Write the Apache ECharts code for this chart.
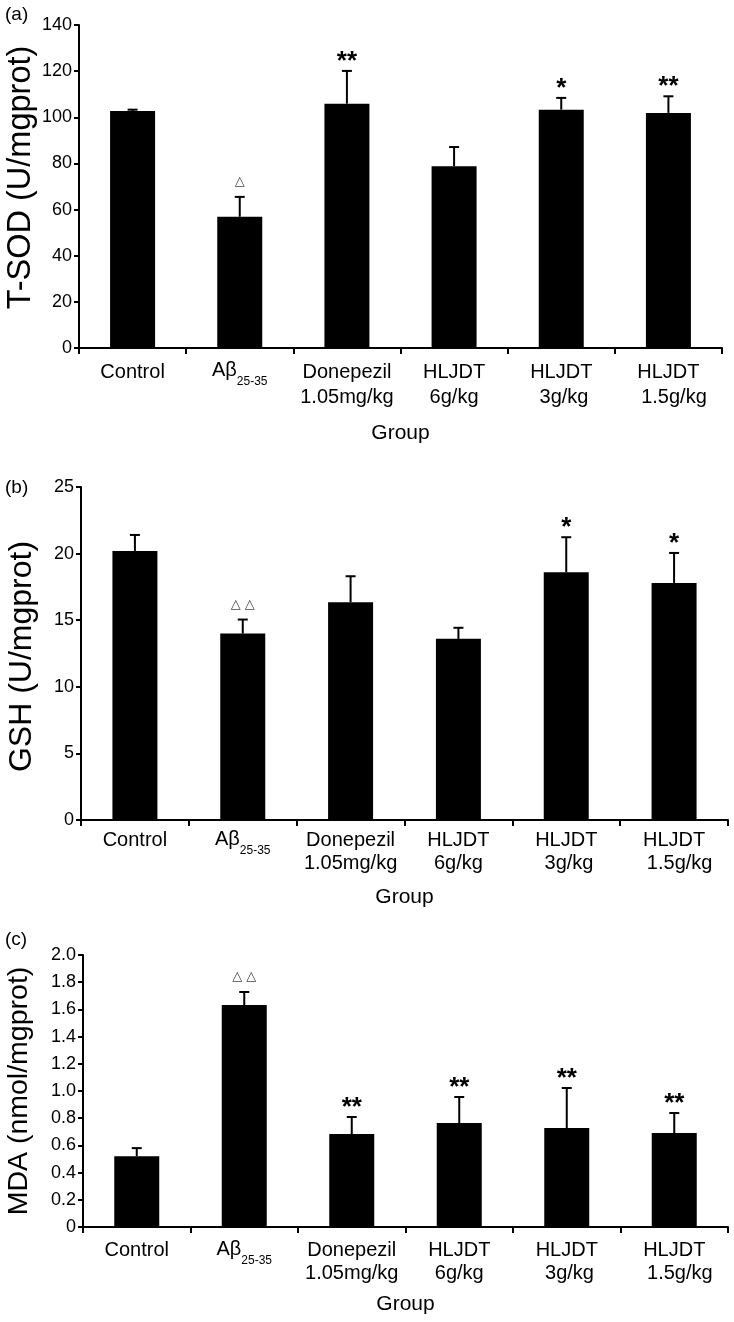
<!DOCTYPE html>
<html>
<head>
<meta charset="utf-8">
<script src="https://cdn.jsdelivr.net/npm/echarts@6/dist/echarts.min.js"></script>
<style>
html,body{margin:0;padding:0;background:#fff;}
#chart{width:734px;height:1322px;}
</style>
</head>
<body>
<div id="chart"></div>
<script>
// ---- data ----
const categories = ['Control', 'Aβ25-35', 'Donepezil\n1.05mg/kg', 'HLJDT\n6g/kg', 'HLJDT\n 3g/kg', 'HLJDT\n  1.5g/kg'];

const sodMean = [102.7, 56.9, 105.9, 78.8, 103.3, 101.9];
const sodSD   = [0.6, 8.6, 14.2, 8.3, 5.1, 7.2];
const sodMarks = ['', '△', '**', '', '*', '**'];
const sodTicks = ['0', '20', '40', '60', '80', '100', '120', '140'];

const gshMean = [20.2, 14.0, 16.35, 13.6, 18.6, 17.8];
const gshSD   = [1.2, 1.05, 1.95, 0.83, 2.63, 2.25];
const gshMarks = ['', '△ △', '', '', '*', '*'];
const gshTicks = ['0', '5', '10', '15', '20', '25'];

const mdaMean = [0.52, 1.632, 0.684, 0.765, 0.728, 0.691];
const mdaSD   = [0.06, 0.096, 0.125, 0.191, 0.294, 0.147];
const mdaMarks = ['', '△ △', '**', '**', '**', '**'];
const mdaTicks = ['0', '0.2', '0.4', '0.6', '0.8', '1.0', '1.2', '1.4', '1.6', '1.8', '2.0'];

const yNames = ['T-SOD (U/mgprot)', 'GSH (U/mgprot)', 'MDA (nmol/mgprot)'];
const xName = 'Group';
const panelLabels = ['(a)', '(b)', '(c)'];

// ---- chart ----
const FONT = "'Liberation Sans', Arial, Helvetica, sans-serif";
const chart = echarts.init(document.getElementById('chart'), null, {renderer: 'canvas'});

const grids = [
  {left: 79, top: 25, width: 643, height: 323, outerBoundsMode: 'none', containLabel: false},
  {left: 81, top: 487, width: 647, height: 333, outerBoundsMode: 'none', containLabel: false},
  {left: 83, top: 955, width: 645, height: 272, outerBoundsMode: 'none', containLabel: false}
];
const yCfg = [
  {max: 140, interval: 20, ticks: sodTicks, nameGap: 41, nameSize: 32.5, namePad: [0, 0, 0, 18]},
  {max: 25, interval: 5, ticks: gshTicks, nameGap: 43, nameSize: 32, namePad: [0, 6, 0, 0]},
  {max: 2, interval: 0.2, ticks: mdaTicks, nameGap: 49, nameSize: 28.5, namePad: 0}
];
const xCfg = [
  {lineHeight: 25, margin: 12, nameGap: 75},
  {lineHeight: 23, margin: 9, nameGap: 67},
  {lineHeight: 23, margin: 12, nameGap: 67}
];
const means = [sodMean, gshMean, mdaMean];
const sds = [sodSD, gshSD, mdaSD];
const marks = [sodMarks, gshMarks, mdaMarks];

function xLabelFormatter(v) {
  if (v === 'Aβ25-35') return '{a|Aβ}{sub|25-35}';
  return v;
}

const xAxes = [], yAxes = [], series = [];
for (let p = 0; p < 3; p++) {
  xAxes.push({
    type: 'category', gridIndex: p, data: categories,
    name: xName, nameLocation: 'middle', nameGap: xCfg[p].nameGap, nameMoveOverlap: false,
    nameTextStyle: {fontFamily: FONT, fontSize: 21, color: '#000'},
    axisLine: {lineStyle: {color: '#000', width: 2}},
    axisTick: {show: true, length: 6, lineStyle: {color: '#000', width: 2}},
    axisLabel: {
      interval: 0, margin: xCfg[p].margin, color: '#000', fontFamily: FONT, fontSize: 20,
      lineHeight: xCfg[p].lineHeight,
      formatter: xLabelFormatter,
      rich: {
        a: {fontFamily: FONT, fontSize: 20, lineHeight: xCfg[p].lineHeight, verticalAlign: 'top', color: '#000'},
        sub: {fontFamily: FONT, fontSize: 12, lineHeight: 44, color: '#000'}
      }
    },
    splitLine: {show: false}
  });
  const tk = yCfg[p].ticks;
  yAxes.push({
    type: 'value', gridIndex: p, min: 0, max: yCfg[p].max, interval: yCfg[p].interval,
    name: yNames[p], nameLocation: 'middle', nameGap: yCfg[p].nameGap, nameRotate: 90,
    nameMoveOverlap: false,
    nameTextStyle: {fontFamily: FONT, fontSize: yCfg[p].nameSize, color: '#000', padding: yCfg[p].namePad},
    axisLine: {show: true, lineStyle: {color: '#000', width: 2}},
    axisTick: {show: true, length: 5, lineStyle: {color: '#000', width: 2}},
    axisLabel: {
      margin: 7, color: '#000', fontFamily: FONT, fontSize: 18,
      formatter: function (v, i) { return tk[i] !== undefined ? tk[i] : String(v); }
    },
    splitLine: {show: false}
  });
  series.push({
    type: 'bar', xAxisIndex: p, yAxisIndex: p, barWidth: 45,
    itemStyle: {color: '#000'},
    data: means[p], silent: true, animation: false
  });
  const mk = marks[p];
  series.push({
    type: 'custom', xAxisIndex: p, yAxisIndex: p, animation: false, silent: true,
    data: means[p].map((m, i) => [i, m, sds[p][i]]),
    encode: {x: 0, y: 1},
    renderItem: function (params, api) {
      const i = api.value(0), m = api.value(1), sd = api.value(2);
      const t = api.coord([i, m]);
      const c = api.coord([i, m + sd]);
      const x = t[0];
      const children = [
        {type: 'line', shape: {x1: x, y1: t[1], x2: x, y2: c[1]}, style: {stroke: '#000', lineWidth: 2}},
        {type: 'line', shape: {x1: x - 5, y1: c[1], x2: x + 5, y2: c[1]}, style: {stroke: '#000', lineWidth: 2}}
      ];
      const s = mk[params.dataIndex];
      if (s) {
        const isStar = s.indexOf('*') >= 0;
        children.push({
          type: 'text', x: x, y: isStar ? c[1] - 9 : c[1] - 15,
          style: isStar ? {
            text: s, fontFamily: FONT, fontWeight: 'bold', fontSize: 26, fill: '#000',
            align: 'center', verticalAlign: 'middle'
          } : {
            text: s, fontFamily: "'DejaVu Sans', sans-serif", fontSize: 13, fill: '#444',
            align: 'center', verticalAlign: 'middle'
          }
        });
      }
      return {type: 'group', children: children};
    }
  });
}

const graphics = [
  {type: 'text', left: 5, top: 5, style: {text: panelLabels[0], fontFamily: FONT, fontSize: 19, fill: '#000'}},
  {type: 'text', left: 5, top: 478, style: {text: panelLabels[1], fontFamily: FONT, fontSize: 19, fill: '#000'}},
  {type: 'text', left: 5, top: 930, style: {text: panelLabels[2], fontFamily: FONT, fontSize: 19, fill: '#000'}}
];

chart.setOption({
  backgroundColor: '#fff',
  animation: false,
  grid: grids,
  xAxis: xAxes,
  yAxis: yAxes,
  series: series,
  graphic: graphics
});
</script>
</body>
</html>
